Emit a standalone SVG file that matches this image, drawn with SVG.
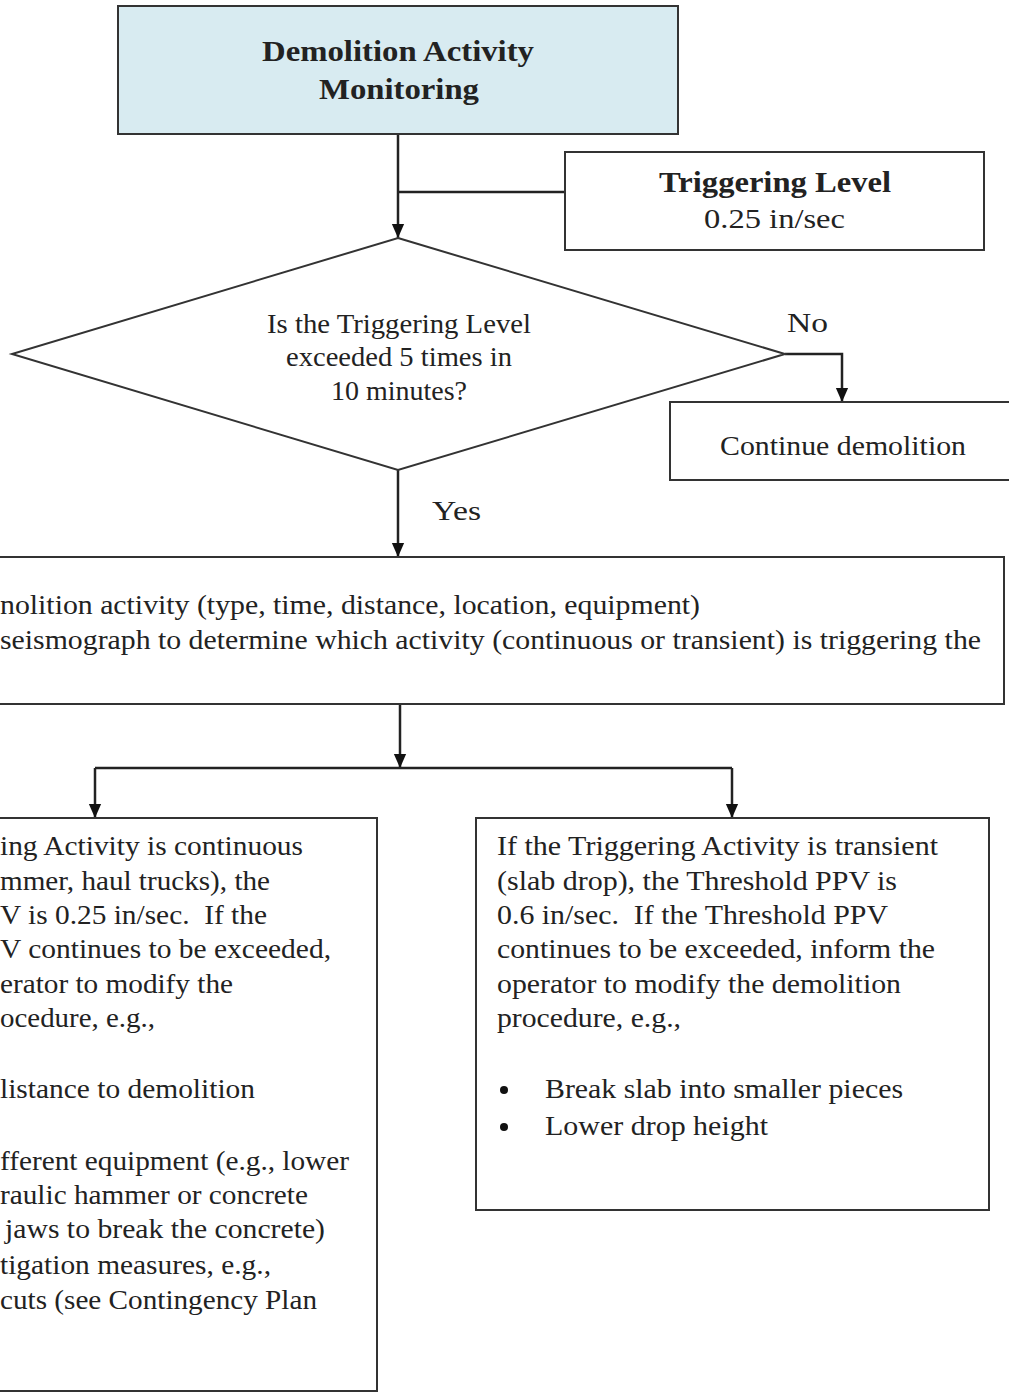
<svg xmlns="http://www.w3.org/2000/svg" width="1009" height="1393" viewBox="0 0 1009 1393">
<style>
.box{fill:#fff;stroke:#333;stroke-width:2}
.t{font-family:"Liberation Serif","Times New Roman",serif;font-size:28px;fill:#222}
.b{font-weight:bold;font-size:30px}
.c{text-anchor:middle}
.ln{fill:none;stroke:#222;stroke-width:2.5}
</style>
<defs>
<marker id="a" markerWidth="14" markerHeight="18" refX="16" refY="7" orient="auto" markerUnits="userSpaceOnUse" viewBox="0 0 16 14">
<path d="M0,0 L16,7 L0,14 z" fill="#111"/>
</marker>
</defs>
<rect width="1009" height="1393" fill="#fff"/>
<g id="connectors">
<path class="ln" d="M398,134 V238" marker-end="url(#a)"/>
<path class="ln" d="M398,192 H565"/>
<path class="ln" d="M785,354 H842 V402" marker-end="url(#a)"/>
<path class="ln" d="M398,470 V557" marker-end="url(#a)"/>
<path class="ln" d="M400,704 V768" marker-end="url(#a)"/>
<path class="ln" d="M95,768 H732"/>
<path class="ln" d="M95,768 V818" marker-end="url(#a)"/>
<path class="ln" d="M732,768 V818" marker-end="url(#a)"/>
<text class="t" x="787" y="332" textLength="41" lengthAdjust="spacingAndGlyphs">No</text>
<text class="t" x="432" y="520" textLength="49" lengthAdjust="spacingAndGlyphs">Yes</text>
</g>
<g id="start">
<rect x="118" y="6" width="560" height="128" fill="#d8ebf1" stroke="#333" stroke-width="2"/>
<text class="t b" x="262" y="61" textLength="272" lengthAdjust="spacingAndGlyphs">Demolition Activity</text>
<text class="t b" x="319" y="99" textLength="160" lengthAdjust="spacingAndGlyphs">Monitoring</text>
</g>
<g id="trigger">
<rect class="box" x="565" y="152" width="419" height="98"/>
<text class="t b" x="659" y="192" textLength="232" lengthAdjust="spacingAndGlyphs">Triggering Level</text>
<text class="t" x="704" y="228" textLength="141" lengthAdjust="spacingAndGlyphs">0.25 in/sec</text>
</g>
<g id="decision">
<polygon class="box" points="398,238 785,354 398,470 12,354"/>
<text class="t" x="267" y="333" textLength="264" lengthAdjust="spacingAndGlyphs">Is the Triggering Level</text>
<text class="t" x="286" y="366" textLength="226" lengthAdjust="spacingAndGlyphs">exceeded 5 times in</text>
<text class="t" x="331" y="400" textLength="136" lengthAdjust="spacingAndGlyphs">10 minutes?</text>
</g>
<g id="continue">
<rect class="box" x="670" y="402" width="350" height="78"/>
<text class="t" x="720" y="455" textLength="246" lengthAdjust="spacingAndGlyphs">Continue demolition</text>
</g>
<g id="review">
<rect class="box" x="-20" y="557" width="1024" height="147"/>
<text class="t" x="0" y="614" textLength="700" lengthAdjust="spacingAndGlyphs">nolition activity (type, time, distance, location, equipment)</text>
<text class="t" x="0" y="649" textLength="981" lengthAdjust="spacingAndGlyphs">seismograph to determine which activity (continuous or transient) is triggering the</text>
</g>
<g id="continuous">
<rect class="box" x="-20" y="818" width="397" height="573"/>
<text class="t" x="0" y="855" textLength="303" lengthAdjust="spacingAndGlyphs">ing Activity is continuous</text>
<text class="t" x="0" y="890" textLength="270" lengthAdjust="spacingAndGlyphs">mmer, haul trucks), the</text>
<text class="t" x="0" y="924" xml:space="preserve" textLength="267" lengthAdjust="spacingAndGlyphs">V is 0.25 in/sec.  If the</text>
<text class="t" x="0" y="958" textLength="331" lengthAdjust="spacingAndGlyphs">V continues to be exceeded,</text>
<text class="t" x="0" y="993" textLength="233" lengthAdjust="spacingAndGlyphs">erator to modify the</text>
<text class="t" x="0" y="1027" textLength="155" lengthAdjust="spacingAndGlyphs">ocedure, e.g.,</text>
<text class="t" x="0" y="1098" textLength="255" lengthAdjust="spacingAndGlyphs">listance to demolition</text>
<text class="t" x="0" y="1170" textLength="349" lengthAdjust="spacingAndGlyphs">fferent equipment (e.g., lower</text>
<text class="t" x="0" y="1204" textLength="308" lengthAdjust="spacingAndGlyphs">raulic hammer or concrete</text>
<text class="t" x="5" y="1238" textLength="320" lengthAdjust="spacingAndGlyphs">jaws to break the concrete)</text>
<text class="t" x="0" y="1274" textLength="271" lengthAdjust="spacingAndGlyphs">tigation measures, e.g.,</text>
<text class="t" x="0" y="1309" textLength="317" lengthAdjust="spacingAndGlyphs">cuts (see Contingency Plan</text>
</g>
<g id="transient">
<rect class="box" x="476" y="818" width="513" height="392"/>
<text class="t" x="497" y="855" textLength="441" lengthAdjust="spacingAndGlyphs">If the Triggering Activity is transient</text>
<text class="t" x="497" y="890" textLength="400" lengthAdjust="spacingAndGlyphs">(slab drop), the Threshold PPV is</text>
<text class="t" x="497" y="924" xml:space="preserve" textLength="391" lengthAdjust="spacingAndGlyphs">0.6 in/sec.  If the Threshold PPV</text>
<text class="t" x="497" y="958" textLength="438" lengthAdjust="spacingAndGlyphs">continues to be exceeded, inform the</text>
<text class="t" x="497" y="993" textLength="404" lengthAdjust="spacingAndGlyphs">operator to modify the demolition</text>
<text class="t" x="497" y="1027" textLength="184" lengthAdjust="spacingAndGlyphs">procedure, e.g.,</text>
<circle cx="504" cy="1090" r="4" fill="#111"/>
<text class="t" x="545" y="1098" textLength="358" lengthAdjust="spacingAndGlyphs">Break slab into smaller pieces</text>
<circle cx="504" cy="1127" r="4" fill="#111"/>
<text class="t" x="545" y="1135" textLength="223" lengthAdjust="spacingAndGlyphs">Lower drop height</text>
</g>
</svg>
